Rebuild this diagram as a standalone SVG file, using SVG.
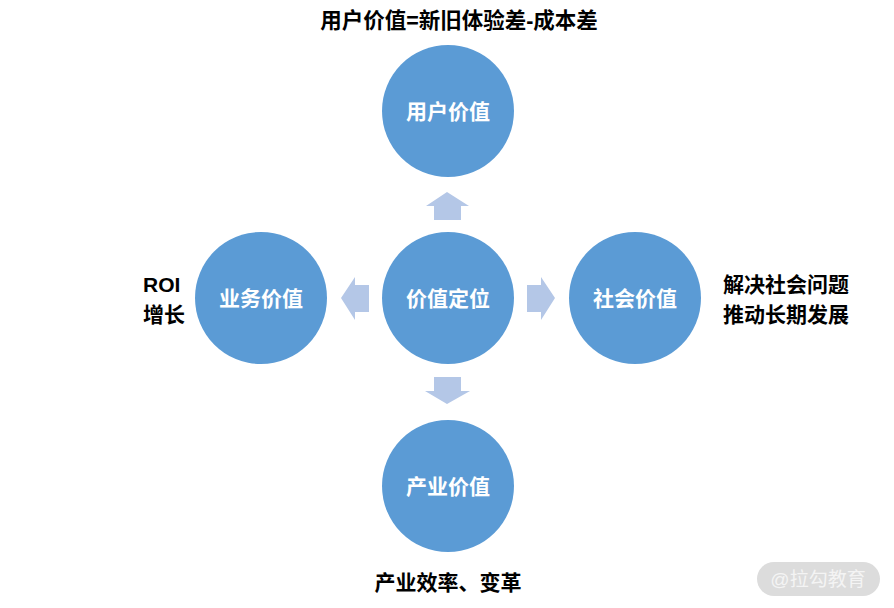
<svg xmlns="http://www.w3.org/2000/svg" width="894" height="608" viewBox="0 0 894 608">
<style>
.c{fill:#5b9bd5}
.a{fill:#b4c7e7}
.cl{font-family:"Liberation Sans","Noto Sans CJK SC",sans-serif;font-weight:bold;font-size:21px;fill:#ffffff;text-anchor:middle}
.t{font-family:"Liberation Sans","Noto Sans CJK SC",sans-serif;font-weight:bold;font-size:21px;fill:#000000}
</style>
<rect width="894" height="608" fill="#ffffff"/>
<text class="t" x="459" y="28" text-anchor="middle" style="font-size:21.5px">用户价值=新旧体验差-成本差</text>
<g id="connectors">
<polygon class="a" points="447,192 469,206 461,206 461,220 434,220 434,206 426,206"/>
<polygon class="a" points="341,298 355,277 355,285 369,285 369,312 355,312 355,320"/>
<polygon class="a" points="555,298 541,277 541,285 527,285 527,312 541,312 541,320"/>
<polygon class="a" points="447,404 470,391 461,391 461,377 434,377 434,391 425,391"/>
</g>
<g id="center"><circle class="c" cx="448" cy="298" r="66"/><text class="cl" x="448" y="306">价值定位</text></g>
<g id="user"><circle class="c" cx="448" cy="111" r="66"/><text class="cl" x="448" y="119">用户价值</text></g>
<g id="business"><circle class="c" cx="261" cy="298" r="66"/><text class="cl" x="261" y="306">业务价值</text></g>
<g id="social"><circle class="c" cx="635" cy="298" r="66"/><text class="cl" x="635" y="306">社会价值</text></g>
<g id="industry"><circle class="c" cx="448" cy="486" r="66"/><text class="cl" x="448" y="494">产业价值</text></g>
<text class="t" x="143" y="292">ROI</text>
<text class="t" x="143" y="322">增长</text>
<text class="t" x="723" y="292">解决社会问题</text>
<text class="t" x="723" y="322">推动长期发展</text>
<text class="t" x="448" y="590" text-anchor="middle">产业效率、变革</text>
<g id="watermark">
<rect x="757" y="562" width="123" height="34" rx="17" fill="#dcdcdc"/>
<text x="818" y="586" text-anchor="middle" font-family="Liberation Sans,'Noto Sans CJK SC',sans-serif" font-size="19" fill="#f4f4f4">@拉勾教育</text>
</g>
</svg>
